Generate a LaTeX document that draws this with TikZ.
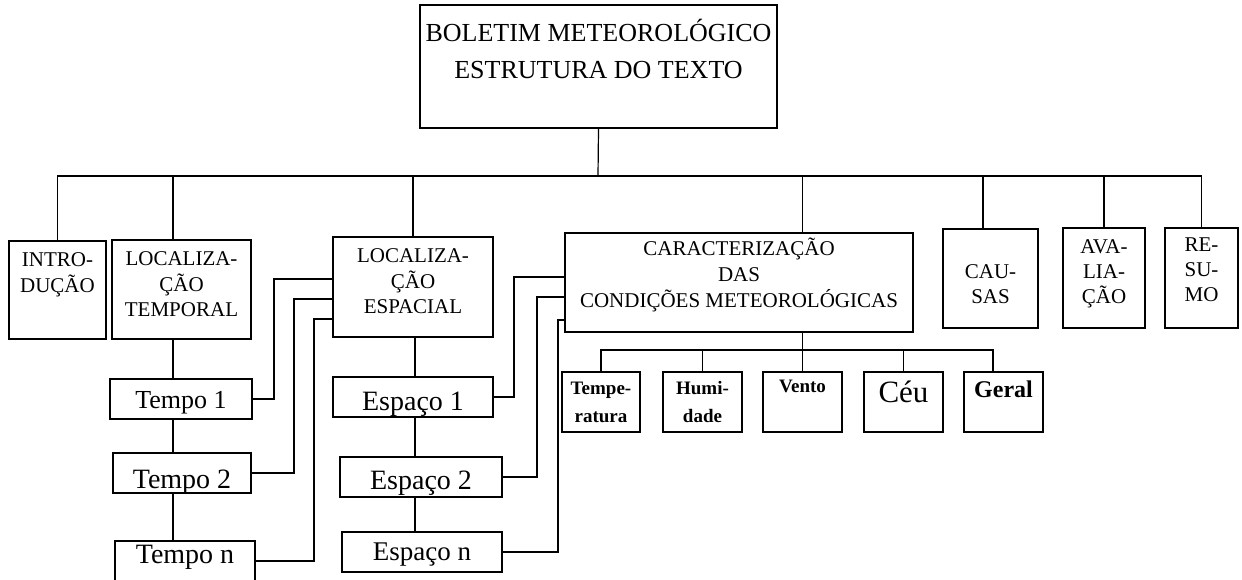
\documentclass[tikz,border=0pt]{standalone}
\usepackage{fontspec}
\setmainfont{Liberation Serif}
\usetikzlibrary{positioning,calc}

\newcommand{\fsz}[2]{\fontsize{#1}{#2}\selectfont}

\begin{document}
\begin{tikzpicture}[
    x=1pt, y=-1pt,
    box/.style={draw, line width=1.5pt, inner sep=0pt},
    wire/.style={line width=1.2pt},
    caps/.style={inner sep=0pt, align=center, anchor=north, font=\fsz{21}{25}},
    small/.style={inner sep=0pt, align=center, anchor=north, font=\bfseries\fsz{19}{28}},
    item/.style={box, minimum height=40pt},
]
    \useasboundingbox (0,0) rectangle (1242,579);

    % Title box
    \node[box, minimum width=357pt, minimum height=123pt] (title) at (598.5,66.5) {};
    \node[inner sep=0pt, align=center, anchor=north, font=\fsz{26}{37}]
        (title-txt) at ([yshift=-10.7pt]title.north) {\strut BOLETIM METEOROLÓGICO\\ESTRUTURA DO TEXTO};

    % Parts of the text (first level) and the sub boxes
    \foreach \n/\cx/\cy/\w/\h in {
        intro/57.5/290/97/98, loc-t/181.5/289.5/139/99, loc-e/413/287/160/100,
        carac/739/282.5/348/99, causas/990.5/278.5/95/99, aval/1104/278/82/100,
        resumo/1201.5/278/73/100,
        temp/601/402/78/60, humid/702.5/402/79/60, vento/802.5/402/79/60,
        ceu/903.5/402/79/60, geral/1003.5/402/79/60} {
        \node[box, minimum width=\w pt, minimum height=\h pt] (\n) at (\cx,\cy) {};
    }
    \foreach \n/\dy/\t in {
        intro/8.5/INTRO-\\DUÇÃO, loc-t/8.5/LOCALIZA-\\ÇÃO\\TEMPORAL,
        loc-e/8.5/LOCALIZA-\\ÇÃO\\ESPACIAL,
        causas/32.5/CAU-\\SAS, aval/8.5/AVA-\\LIA-\\ÇÃO, resumo/6.5/RE-\\SU-\\MO} {
        \node[caps] (\n-txt) at ([yshift=-\dy pt]\n.north) {\strut\t};
    }
    \node[caps, font=\fsz{21}{26}] (carac-txt) at ([yshift=-4.5pt]carac.north)
        {\strut CARACTERIZAÇÃO\\DAS\\CONDIÇÕES METEOROLÓGICAS};
    \node[small] (temp-txt) at ([yshift=-3.4pt]temp.north) {\strut Tempe-\\ratura};
    \node[small] (humid-txt) at ([yshift=-3.4pt]humid.north) {\strut Humi-\\dade};
    \node[small] (vento-txt) at ([yshift=-1.4pt]vento.north) {\strut Vento};
    \node[small, font=\fsz{31}{36}] (ceu-txt) at ([yshift=-5.8pt]ceu.north) {\strut Céu};
    \node[small, font=\bfseries\fsz{24}{29}] (geral-txt) at ([yshift=-5.7pt]geral.north) {\strut Geral};

    % Time and space sequences
    \foreach \n/\cx/\cy/\w/\th/\td/\sz/\t in {
        tempo-1/181/399/142/18/0/26/Tempo 1, tempo-2/182/473/138/30/0/28/Tempo 2,
        tempo-n/185/561/140/19/15/28/Tempo n,
        espaco-1/413/397/160/26/0/28/Espaço 1, espaco-2/421/477/162/24/0/28/Espaço 2,
        espaco-n/422/552/160/16/0/27/Espaço n} {
        \node[item, minimum width=\w pt, text height=\th pt, text depth=\td pt,
              font=\fsz{\sz}{\sz}] (\n) at (\cx,\cy) {\t};
    }

    % Main bus
    \coordinate (bus) at (598,176);
    \draw[wire] (title.south) -- (bus);
    \draw[wire] (intro.north) |- (bus) -| (resumo.north);
    \draw[wire] (loc-t.north -| 173,0) -- (bus -| 173,0);
    \draw[wire] (loc-e.north) -- (loc-e.north |- bus);
    \draw[wire] (carac.north -| vento.north) -- (bus -| vento.north);
    \draw[wire] (causas.north -| 983,0) -- (bus -| 983,0);
    \draw[wire] (aval.north) -- (aval.north |- bus);

    % Chains
    \foreach \a/\b in {loc-t/tempo-1, tempo-1/tempo-2, tempo-2/tempo-n}
        \draw[wire] (\a.south -| 173,0) -- (\b.north -| 173,0);
    \foreach \a/\b in {loc-e/espaco-1, espaco-1/espaco-2, espaco-2/espaco-n}
        \draw[wire] (\a.south -| 415,0) -- (\b.north -| 415,0);

    % Side links
    \foreach \a/\xx/\yy in {tempo-1/274/279, tempo-2/294/299, tempo-n/314/319}
        \draw[wire] (\a.east) -| (\xx,\yy) -- (loc-e.west |- 0,\yy);
    \foreach \a/\xx/\yy in {espaco-1/514/277, espaco-2/537/297, espaco-n/558/320}
        \draw[wire] (\a.east) -| (\xx,\yy) -- (carac.west |- 0,\yy);

    % Sub bus
    \coordinate (sbus) at (802.5,350);
    \draw[wire] (carac.south -| vento.north) -- (vento.north);
    \draw[wire] (temp.north) |- (sbus) -| (geral.north -| 993,0);
    \draw[wire] (humid.north) -- (humid.north |- sbus);
    \draw[wire] (ceu.north) -- (ceu.north |- sbus);
\end{tikzpicture}
\end{document}
